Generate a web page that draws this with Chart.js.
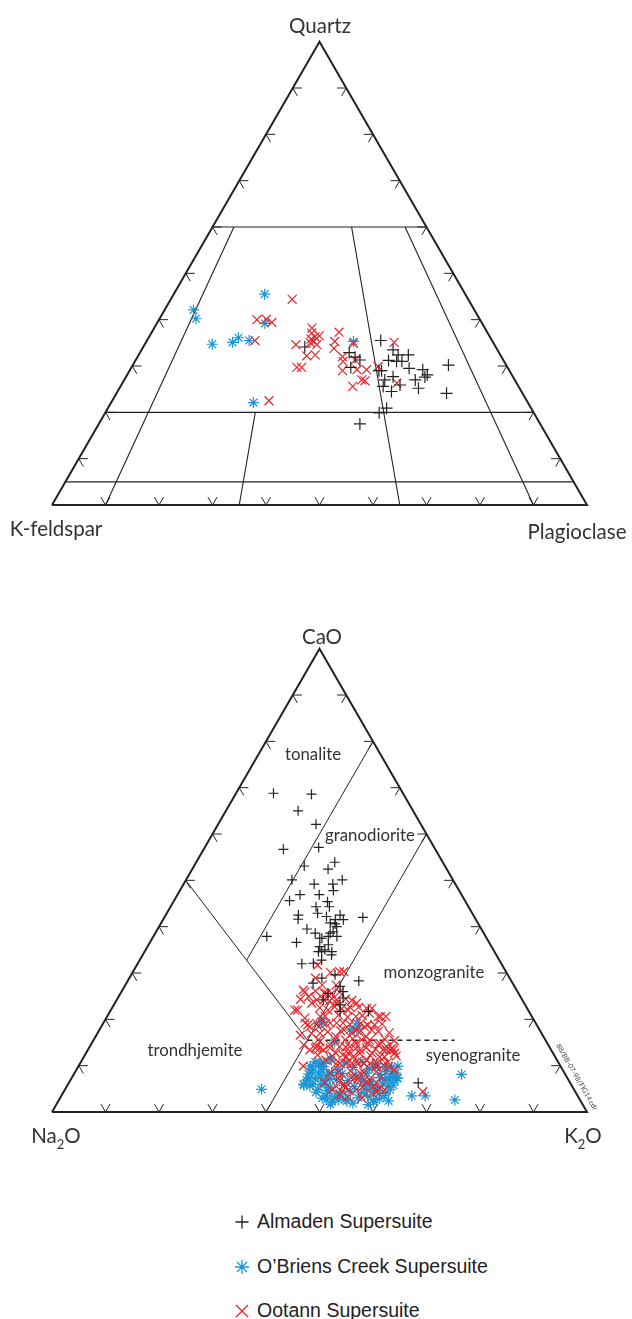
<!DOCTYPE html>
<html><head><meta charset="utf-8">
<script src="https://cdn.jsdelivr.net/npm/chart.js@4.4.1/dist/chart.umd.min.js"></script>
<style>
html,body{margin:0;padding:0;background:#fff;}
#page{position:relative;width:632px;height:1319px;overflow:hidden;font-family:Lato,"Open Sans",sans-serif;color:#333;}
canvas{position:absolute;left:0;}
.lbl{position:absolute;white-space:nowrap;transform:translate(-50%,-50%);line-height:1;}
.vtx{font-size:20.5px;}
.fld{font-size:16.8px;}
.rot{position:absolute;white-space:nowrap;font-size:7px;line-height:1;transform:translate(-50%,-50%) rotate(60deg);color:#444;}
.leg{position:absolute;left:233px;font-family:"Liberation Sans",Arial,sans-serif;font-size:19.5px;color:#222;line-height:1;}
.leg svg{position:absolute;left:0;top:-8px;}
.leg span{position:absolute;left:24px;top:-10px;white-space:nowrap;}
</style></head><body>
<div id="page">
<canvas id="qap" width="632" height="560" style="top:0"></canvas>
<canvas id="cnk" width="632" height="560" style="top:600px"></canvas>

<div class="lbl vtx" style="left:320px;top:25px">Quartz</div>
<div class="lbl vtx" style="left:56px;top:528px">K-feldspar</div>
<div class="lbl vtx" style="left:577px;top:531px">Plagioclase</div>

<div class="lbl vtx" style="left:322px;top:636px">CaO</div>
<div class="lbl vtx" style="left:56px;top:1138px">Na<sub style="font-size:13px">2</sub>O</div>
<div class="lbl vtx" style="left:583px;top:1138px">K<sub style="font-size:13px">2</sub>O</div>
<div class="lbl fld" style="left:313px;top:754px">tonalite</div>
<div class="lbl fld" style="left:370px;top:835px">granodiorite</div>
<div class="lbl fld" style="left:434px;top:972px">monzogranite</div>
<div class="lbl fld" style="left:195px;top:1050px">trondhjemite</div>
<div class="lbl fld" style="left:473px;top:1055px">syenogranite</div>
<div class="rot" style="left:577px;top:1077px">88/BB-07-98/FIG14.cdr</div>

<div class="leg" style="top:1222px"><svg width="18" height="16" viewBox="-9 -8 18 16"><path d="M-6.5 0H6.5M0 -6.5V6.5" stroke="#222" stroke-width="1.3"/></svg><span>Almaden Supersuite</span></div>
<div class="leg" style="top:1267px"><svg width="18" height="16" viewBox="-9 -8 18 16"><path d="M-7 0H7M0 -7V7M-5 -5L5 5M-5 5L5 -5" stroke="#1b95d5" stroke-width="1.3"/></svg><span>O’Briens Creek Supersuite</span></div>
<div class="leg" style="top:1311px"><svg width="18" height="16" viewBox="-9 -8 18 16"><path d="M-6 -6L6 6M-6 6L6 -6" stroke="#e8262b" stroke-width="1.3"/></svg><span>Ootann Supersuite</span></div>
</div>
<script>
// ---------- DATA (Q-A-P diagram: [Quartz %, Plagioclase %]; K-feldspar = remainder) ----------
const qapAlmaden = [[35.5,43.7],[34.1,30.2],[32.9,39.1],[31.9,40.7],[31.3,41.9],[29.7,41.0],[33.5,47.0],[32.4,48.5],[32.4,50.4],[31.2,47.3],[31.0,48.9],[31.0,49.9],[29.0,47.1],[29.0,46.6],[29.5,52.0],[29.2,54.7],[28.1,56.1],[27.6,55.9],[30.2,59.0],[27.7,49.9],[27.0,48.7],[25.6,49.1],[24.5,51.2],[25.9,52.1],[27.0,54.4],[25.2,55.9],[24.1,61.7],[20.9,52.1],[19.9,51.2],[17.5,48.8]];
const qapOBriens = [[42.1,5.4],[40.2,6.8],[45.5,17.0],[39.2,20.2],[34.7,12.6],[35.1,16.2],[36.1,16.8],[35.5,19.1],[35.3,38.7],[22.1,26.6]];
const qapOotann = [[44.4,22.7],[40.0,18.3],[40.1,20.0],[39.4,21.4],[35.5,20.2],[38.2,29.5],[37.1,30.0],[36.3,31.0],[36.5,31.7],[35.8,30.5],[35.3,31.3],[34.6,32.2],[34.6,28.3],[32.2,31.5],[32.4,33.0],[37.3,35.0],[35.3,35.2],[33.8,35.8],[32.0,38.3],[31.0,38.9],[31.3,41.0],[34.9,38.9],[29.7,30.9],[29.7,31.8],[29.0,39.8],[29.2,42.4],[29.2,44.2],[27.0,44.4],[26.8,45.1],[25.6,43.4],[35.1,46.4],[29.9,46.0],[26.3,51.3],[22.5,29.3],[35.0,30.8]];

// ---------- DATA (CaO-Na2O-K2O diagram: [CaO %, K2O %]; Na2O = remainder) ----------
const cnkAlmaden = [[68.8,7.0],[68.6,14.2],[65.0,13.5],[62.1,18.3],[56.7,14.9],[57.1,21.3],[53.1,20.6],[53.9,25.9],[52.4,25.4],[50.1,19.8],[49.2,24.4],[50.1,29.2],[49.2,27.9],[47.8,28.7],[46.9,22.9],[45.6,21.6],[46.9,26.5],[45.4,28.8],[44.3,29.7],[44.3,27.2],[42.5,24.8],[41.6,25.2],[42.9,28.2],[42.2,30.2],[40.8,31.6],[41.5,32.2],[42.5,32.6],[41.5,33.7],[42.0,37.1],[40.0,33.2],[38.9,33.1],[39.5,27.9],[38.6,29.9],[37.5,31.3],[37.9,32.7],[37.9,34.3],[37.9,21.2],[36.6,27.4],[35.7,32.2],[36.1,33.6],[34.6,35.0],[34.6,33.1],[32.0,30.7],[32.1,32.8],[32.8,34.0],[33.9,35.3],[29.6,38.1],[28.3,43.2],[27.8,34.9],[28.9,36.0],[27.1,40.3],[26.0,41.4],[25.6,38.8],[24.6,42.1],[24.2,38.6],[23.1,42.3],[21.7,43.0],[21.7,48.3],[6.3,65.3],[40.6,32.6],[38.6,32.7],[37.5,31.7],[35.0,33.5],[34.6,32.5]];
const cnkOBriens = [[4.9,36.7],[6.0,44.0],[3.5,65.5],[3.5,68.0],[2.6,74.0],[8.1,72.5],[2.4,61.7],[2.6,58.8],[2.6,52.2],[2.7,50.0],[10.5,44.8],[18.1,48.2],[19.5,40.6],[17.7,46.8],[15.1,45.3],[11.6,46.2],[7.6,59.4],[7.3,60.8],[9.8,55.5],[19.2,47.4],
[10.8,43.8],[11.2,46.6],[10.6,49.4],[10.9,52.5],[10.4,55.5],
[9.5,43.9],[9.8,45.8],[9.2,48.8],[9.6,51.4],[9.3,54.7],[9.7,57.4],
[8.2,43.8],[8.5,45.6],[7.9,47.5],[8.3,50.1],[8.0,52.7],[8.4,54.6],[8.1,57.2],[8.3,59.5],
[6.9,44.1],[7.2,45.6],[6.7,47.6],[7.0,49.7],[6.8,51.9],[7.1,54.2],[6.6,56.4],[7.0,58.7],[6.8,60.6],
[5.6,45.4],[5.9,47.3],[5.4,49.3],[5.7,51.8],[5.5,53.8],[5.8,55.5],[5.3,57.8],[5.6,60.0],
[4.3,47.2],[4.6,49.1],[4.1,51.7],[4.4,53.6],[4.2,55.8],[4.5,58.1],[4.0,60.3],
[3.0,49.0],[3.2,51.2],[2.8,53.5],[3.1,55.7],[2.9,59.8],
[1.7,51.2],[1.9,55.3],[1.6,58.3],
[10.6,45.5],[19.4,40.8],[17.7,47.6],[5.8,44.2],
[9.9,43.3],[10.1,44.8],[9.7,58.6],[9.9,59.7],
[8.6,44.3],[8.8,46.2],[8.5,48.0],[8.7,58.1],[8.4,60.0],
[7.3,44.4],[7.5,46.5],[7.2,48.3],[7.4,57.7],[7.1,59.5],[7.3,61.0],
[6.0,45.8],[6.2,48.0],[5.9,56.4],[6.1,58.7],[5.8,60.9],
[4.8,47.3],[4.6,49.6],[4.9,56.3],[4.7,58.5],[4.8,60.8],
[3.5,49.5],[3.7,52.1],[3.4,57.3],[3.6,60.3],
[2.2,51.2],[2.4,53.9],[2.1,59.1]];
const cnkOotann = [[30.1,37.0],[30.3,39.4],[28.9,34.8],[26.3,33.8],[22.0,34.9],[24.9,35.5],[23.5,36.8],[24.2,38.7],[25.6,39.5],[23.5,41.4],[22.0,40.6],[20.6,39.8],[18.8,38.4],[17.0,40.0],[15.2,42.5],[13.8,43.2],[9.9,42.0],[22.0,44.3],[20.6,46.5],[22.4,47.6],[20.6,51.1],[18.8,50.9],[18.4,49.2],[17.0,47.6],[17.7,45.7],[16.3,44.9],[14.8,49.4],[14.8,51.7],[14.5,53.7],[13.4,55.8],[12.7,57.7],[11.9,56.2],[12.7,53.5],[12.7,51.2],[12.7,49.0],[12.7,46.7],[10.5,48.5],[10.5,50.8],[10.5,53.1],[9.8,55.8],[9.8,58.0],[7.6,52.3],[6.9,54.9],[6.2,57.6],[5.8,51.7],[4.8,54.5],[4.8,49.9],[4.0,57.9],[3.3,53.7],[4.4,67.1],[22.0,34.4],[25.6,38.5],[24.2,37.4],[24.2,41.1],[22.7,44.3],[23.5,45.2],[21.3,48.7],[20.6,50.7],[18.4,40.6],[19.2,42.4],[19.2,44.8],[17.7,48.1],[16.3,50.6],[14.8,53.9],[13.4,56.5],[15.6,42.0],[13.4,41.5],[13.4,44.0],[14.1,46.7],[14.1,48.6],[13.4,50.9],[13.4,55.2],[11.9,49.1],[10.9,51.5],[11.2,53.2],[10.5,55.4],[7.6,50.0],[6.9,52.8],[6.5,55.5],[5.5,57.3],[5.5,50.4],[4.8,53.0],[4.4,58.5],[8.4,47.8],[8.4,53.4],[7.6,57.8],[30.3,38.6],[18.4,39.0],[17.0,41.6],[14.1,42.4],[13.4,57.1],[14.1,55.5],[11.2,45.6],[14.5,44.7],[15.6,47.0],[15.6,50.1],[17.7,50.9],[10.8,57.4],[9.1,59.5],[3.7,51.9],[3.0,56.4],[4.8,59.8],[6.3,47.8],[12.3,43.5],[27.4,36.8],[27.4,39.4],[31.7,33.8],[20.3,37.1],[16.6,38.1],[14.5,39.8],
[25.9,34.3],[26.1,36.2],[25.7,38.0],[25.9,40.8],
[24.3,34.3],[24.0,39.9],[24.4,42.7],[24.1,44.0],
[22.5,38.8],[22.7,41.5],[22.3,43.0],[22.6,46.0],[22.4,48.6],
[20.7,40.7],[20.9,43.1],[20.5,45.0],[20.8,47.6],[20.6,52.1],
[19.0,41.7],[19.2,43.6],[18.9,46.2],[19.1,48.1],[18.8,49.6],[19.0,52.2],
[17.3,42.9],[17.5,45.2],[17.2,48.9],[17.4,52.3],[17.1,54.5],
[15.6,45.1],[15.8,48.3],[15.5,51.6],[15.7,54.4],[15.4,56.3],
[13.8,45.1],[14.0,47.9],[13.7,49.9],[13.9,51.8],[13.6,53.7],[13.8,56.7],
[12.1,46.3],[12.3,48.2],[12.0,50.4],[12.2,53.4],[11.9,55.3],[12.1,58.3],
[10.4,47.9],[10.6,49.8],[10.3,52.0],[10.5,54.2],[10.2,56.9],
[8.6,49.2],[8.8,51.4],[8.5,54.0],[8.7,56.3],
[6.9,50.4],[7.1,53.6],[6.8,56.0],
[5.2,52.2],[5.4,55.3],[5.1,58.7],
[19.2,37.7],[13.8,42.3],[19.1,39.9]];

// Field boundaries, in [apex %, right-corner %] pairs
const qapOutline = [[0,0],[0,100],[100,0],[0,0]];
const qapFields = [[[60,0],[60,40]],[[20,0],[20,80]],[[5,0],[5,95]],[[60,4],[0,10]],[[20,28],[0,35]],[[60,26],[0,65]],[[60,36],[0,90]]];
const cnkFields = [[[50,0],[15.5,40]],[[0,40],[60,40]],[[80,20],[32.75,20]]];
const cnkDashed = [[15.5,40],[15.5,67.5]];
const tickLevels = [10,20,30,40,50,60,70,80,90];

// ---------- helpers ----------
const S3 = Math.sqrt(3)/2;
const PX = 5.35, LEFT = 52, W = 632;
function pt(v){ return {x: v[1] + v[0]/2, y: v[0]*S3}; }
function scalesFor(h, baseY){
  return {
    x:{type:'linear',display:false,min:-LEFT/PX,max:(W-LEFT)/PX},
    y:{type:'linear',display:false,min:-(h-baseY)/PX,max:baseY/PX}
  };
}
function lineDs(points, width, dash){
  return {type:'scatter',data:points,showLine:true,borderColor:'#222',borderWidth:width,
    pointRadius:0,borderDash:dash||[],fill:false,order:10};
}
function ticks(){
  const L=1.7, out=[];
  tickLevels.forEach(i=>{
    const le=pt([i,0]), re=pt([i,100-i]), be=pt([0,i]);
    out.push(lineDs([{x:le.x+L,y:le.y},le,{x:le.x+L*0.5,y:le.y-L*S3}],1));
    out.push(lineDs([{x:re.x-L,y:re.y},re,{x:re.x-L*0.5,y:re.y-L*S3}],1));
    out.push(lineDs([{x:be.x-L*0.5,y:be.y+L*S3},be,{x:be.x+L*0.5,y:be.y+L*S3}],1));
  });
  return out;
}
function ptsDs(label, arr, style, color, r, order){
  return {type:'scatter',label,data:arr.map(pt),pointStyle:style,pointRadius:r,
    pointBorderColor:color,borderColor:color,pointBorderWidth:1.2,
    pointBackgroundColor:'rgba(0,0,0,0)',backgroundColor:'rgba(0,0,0,0)',showLine:false,order};
}
const BLACK='#222', BLUE='#1b95d5', RED='#e8262b';
const baseOpts = {responsive:false,animation:false,events:[],layout:{padding:0,autoPadding:false},
  plugins:{legend:{display:false},tooltip:{enabled:false}}};

new Chart(document.getElementById('qap'), {
  type:'scatter',
  data:{datasets:[
    ptsDs('Almaden Supersuite', qapAlmaden,'cross',BLACK,6,1),
    ptsDs('Ootann Supersuite', qapOotann,'crossRot',RED,6.3,2),
    ptsDs('O’Briens Creek Supersuite', qapOBriens,'star',BLUE,5.5,3),
    lineDs(qapOutline.map(pt),2),
    ...qapFields.map(s=>lineDs(s.map(pt),1.1)),
    ...ticks()
  ]},
  options:{...baseOpts, scales:scalesFor(560,505)}
});

new Chart(document.getElementById('cnk'), {
  type:'scatter',
  data:{datasets:[
    ptsDs('Almaden Supersuite', cnkAlmaden,'cross',BLACK,5,1),
    ptsDs('Ootann Supersuite', cnkOotann,'crossRot',RED,6.2,2),
    ptsDs('O’Briens Creek Supersuite', cnkOBriens,'star',BLUE,5.5,3),
    lineDs(qapOutline.map(pt),2),
    ...cnkFields.map(s=>lineDs(s.map(pt),1)),
    lineDs(cnkDashed.map(pt),1.5,[5,4]),
    ...ticks()
  ]},
  options:{...baseOpts, scales:scalesFor(560,512)}
});
</script>
</body></html>
